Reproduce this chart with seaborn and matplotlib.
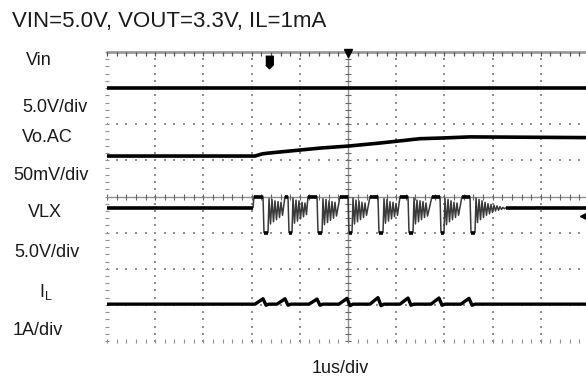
"""Scope capture: start-up of the buck, VIN=5.0V, VOUT=3.3V, IL=1mA."""

import numpy as np
import matplotlib
matplotlib.use('Agg')
import matplotlib.pyplot as plt
import seaborn as sns

# ---- trace data, time in us (1us/div) ----
vin_t = [0.0, 10.0]
vin_v = [5.0, 5.0]  # V

vo_t = [0.0, 3.07, 3.22, 3.34, 3.80, 4.42, 5.04, 5.66, 6.08, 6.49, 6.97, 7.53, 10.0]
vo_mv = [6, 6, 9, 10, 13, 17, 20, 24, 27, 30, 31, 32.5, 31.5]  # mV, AC coupled

# switch node: high plateau, low pulse, then ringing, per cycle
vlx_t = [0.0, 3.029,
         3.050, 3.237, 3.257, 3.340,
         3.361, 3.392, 3.423, 3.454, 3.485, 3.517, 3.548, 3.579, 3.610, 3.641,
         3.693, 3.755, 3.776, 3.838,
         3.859, 3.890, 3.921, 3.952, 3.983, 4.015, 4.046, 4.077, 4.108, 4.139,
         4.170, 4.357, 4.378, 4.461,
         4.481, 4.512, 4.544, 4.575, 4.606, 4.637, 4.668, 4.699, 4.730, 4.761,
         4.834, 5.000, 5.021, 5.083,
         5.104, 5.135, 5.166, 5.197, 5.228, 5.259, 5.290, 5.322, 5.353, 5.384,
         5.456, 5.622, 5.643, 5.726,
         5.747, 5.778, 5.809, 5.840, 5.871, 5.903, 5.934, 5.965, 5.996, 6.027,
         6.079, 6.245, 6.266, 6.349,
         6.369, 6.400, 6.432, 6.463, 6.494, 6.525, 6.556, 6.587, 6.618, 6.650,
         6.743, 6.909, 6.929, 6.992,
         7.012, 7.044, 7.075, 7.106, 7.137, 7.168, 7.199, 7.230, 7.261, 7.293,
         7.365, 7.531, 7.552, 7.635,
         7.656, 7.687, 7.718, 7.749, 7.780, 7.811, 7.842, 7.873, 7.905, 7.936,
         7.967, 7.998, 8.029, 8.060, 8.091, 8.123, 8.154, 8.185, 8.216, 8.247, 8.278,
         10.0]
vlx_v = [3.45, 3.45,
         5.0, 5.0, 0.0, 0.0,
         4.7, 1.2, 4.6, 1.5, 4.4, 1.8, 4.3, 2.1, 4.2, 2.4,
         5.0, 5.0, 0.0, 0.0,
         4.8, 1.3, 4.5, 1.6, 4.4, 1.9, 4.2, 2.2, 4.1, 2.5,
         5.0, 5.0, 0.0, 0.0,
         4.7, 1.1, 4.6, 1.4, 4.4, 1.7, 4.3, 2.0, 4.2, 2.3,
         5.0, 5.0, 0.0, 0.0,
         4.8, 1.2, 4.5, 1.5, 4.4, 1.8, 4.2, 2.1, 4.1, 2.4,
         5.0, 5.0, 0.0, 0.0,
         4.7, 1.3, 4.6, 1.6, 4.3, 1.9, 4.2, 2.2, 4.0, 2.4,
         5.0, 5.0, 0.0, 0.0,
         4.8, 1.2, 4.5, 1.5, 4.4, 1.8, 4.3, 2.1, 4.1, 2.3,
         5.0, 5.0, 0.0, 0.0,
         4.7, 1.1, 4.6, 1.5, 4.4, 1.8, 4.2, 2.1, 4.1, 2.4,
         5.0, 5.0, 0.0, 0.0,
         4.8, 1.4, 4.6, 1.8, 4.4, 2.1, 4.2, 2.4, 4.0, 2.6,
         3.9, 2.8, 3.8, 3.0, 3.7, 3.1, 3.6, 3.2, 3.5, 3.3, 3.45,
         3.45]

il_t = [0.0,
        3.071, 3.237, 3.299, 3.361,
        3.527, 3.693, 3.755, 3.817,
        4.191, 4.357, 4.419, 4.481,
        4.813, 4.979, 5.042, 5.104,
        5.456, 5.622, 5.685, 5.747,
        6.079, 6.245, 6.307, 6.369,
        6.722, 6.888, 6.950, 7.012,
        7.344, 7.510, 7.573, 7.635,
        10.0]
il_a = [0.0,
        0.0, 0.15, -0.03, 0.0,
        0.0, 0.15, -0.03, 0.0,
        0.0, 0.14, -0.03, 0.0,
        0.0, 0.16, -0.04, 0.0,
        0.0, 0.18, -0.04, 0.0,
        0.0, 0.17, -0.03, 0.0,
        0.0, 0.17, -0.03, 0.0,
        0.0, 0.16, -0.03, 0.0,
        0.0]

# channel settings: (offset in div, units per div)
VIN_CH = (6.0, 5.0)
VO_CH = (5.0, 50.0)
VLX_CH = (3.0, 5.0)
IL_CH = (1.02, 1.0)

sns.set_style('white')
plt.rcParams['font.family'] = ['Liberation Sans', 'DejaVu Sans']
plt.rcParams['mathtext.fontset'] = 'custom'
plt.rcParams['mathtext.rm'] = 'Liberation Sans'

W, H = 586, 379
fig = plt.figure(figsize=(W / 100, H / 100), dpi=100)
# screen is 10 x 8 div, right edge is cut off by the capture
ax = fig.add_axes([107 / W, 38 / H, 482 / W, 289 / H])
ax.set_xlim(0, 10)
ax.set_ylim(0, 8)
ax.axis('off')

# graticule
grid_c = '#8f8f8f'
minor_x = np.arange(0, 10.01, 0.2)
minor_y = np.arange(0, 8.01, 0.2)
for row in range(1, 8):
    if row == 4:
        continue
    ax.scatter(minor_x, np.full_like(minor_x, row), s=1.3, marker='s',
               color=grid_c, linewidths=0, zorder=1)
for col in range(1, 10):
    if col == 5:
        continue
    ax.scatter(np.full_like(minor_y, col), minor_y, s=1.3, marker='s',
               color=grid_c, linewidths=0, zorder=1)
ax.plot(np.zeros_like(minor_y), minor_y, ls='none', marker='_', ms=2.5,
        mew=0.8, color=grid_c, clip_on=False)
ax.plot(minor_x, np.zeros_like(minor_x), ls='none', marker='|', ms=2.5,
        mew=0.8, color=grid_c, clip_on=False)
ax.axvline(5, color=grid_c, lw=1.0, zorder=1)
ax.axhline(4, color=grid_c, lw=1.0, zorder=1)
ax.plot(minor_x, np.full_like(minor_x, 4), ls='none', marker='|', ms=4,
        mew=0.8, color='#666666', zorder=1)
ax.plot(np.full_like(minor_y, 5), minor_y, ls='none', marker='_', ms=4,
        mew=0.8, color='#666666', zorder=1)
ax.axhline(8, color='#9a9a9a', lw=2.0, clip_on=False, zorder=1)
ax.plot(minor_x, np.full_like(minor_x, 7.95), ls='none', marker='|', ms=2.5,
        mew=0.9, color='#555555', clip_on=False)

# traces
def to_div(vals, ch):
    off, scale = ch
    return off + np.asarray(vals, dtype=float) / scale

sns.lineplot(x=vin_t, y=to_div(vin_v, VIN_CH), ax=ax, color='black', lw=2.6,
             estimator=None, sort=False, zorder=3)
sns.lineplot(x=vo_t, y=to_div(vo_mv, VO_CH), ax=ax, color='black', lw=2.6,
             estimator=None, sort=False, zorder=3)
sns.lineplot(x=il_t, y=to_div(il_a, IL_CH), ax=ax, color='black', lw=2.4,
             estimator=None, sort=False, zorder=3)

vlx_y = to_div(vlx_v, VLX_CH)
sns.lineplot(x=vlx_t, y=vlx_y, ax=ax, color='#3a3a3a', lw=1.1,
             estimator=None, sort=False, zorder=3)
# flat parts of the switch node look thick on the scope
for i in range(len(vlx_t) - 1):
    if vlx_v[i] == vlx_v[i + 1]:
        ax.plot(vlx_t[i:i + 2], vlx_y[i:i + 2], color='black', lw=2.6,
                solid_capstyle='butt', zorder=4)

# scope markers: trigger position, centre, VLX level
trig = [(-0.6, 1), (0.6, 1), (0.6, -0.4), (0, -1), (-0.6, -0.4)]
ax.plot([3.36], [7.73], marker=trig, ms=9, color='black', ls='none')
ax.plot([5.0], [7.96], marker='v', ms=6, color='black', ls='none', clip_on=False)
ax.plot([9.87], [3.46], marker='<', ms=5, color='black', ls='none')

# labels (pixel positions of the capture)
def label(x, y, s, size=13, ha='center'):
    fig.text(x / W, 1 - y / H, s, fontsize=size, ha=ha, va='baseline',
             color='#1a1a1a')

label(12, 27, 'VIN=5.0V, VOUT=3.3V, IL=1mA', size=16, ha='left')
label(38.5, 65, 'Vin')
label(55, 112, '5.0V/div')
label(47, 142, 'Vo.AC')
label(51.5, 180, '50mV/div')
label(44.5, 217, 'VLX')
label(46.5, 257, '5.0V/div')
label(45.5, 297, r'I$_\mathrm{L}$')
label(38, 335, '1A/div')
label(340, 373, '1us/div')

plt.savefig('out.png', dpi=100)
print("Saved: out.png")
